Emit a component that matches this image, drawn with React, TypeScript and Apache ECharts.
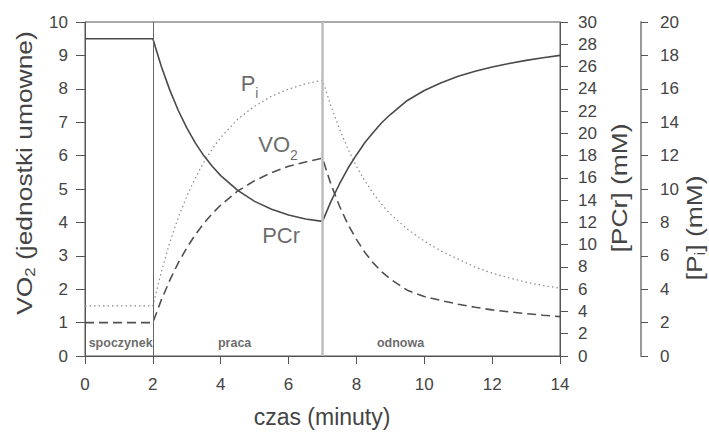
import { useEffect, useRef } from 'react';
import * as echarts from 'echarts';

const TIME = [0, 2, 2.25, 2.5, 2.75, 3, 3.25, 3.5, 3.75, 4, 4.5, 5, 5.5, 6, 6.5, 7, 7.25, 7.5, 7.75, 8, 8.25, 8.5, 8.75, 9, 9.5, 10, 10.5, 11, 11.5, 12, 12.5, 13, 13.5, 14];
// VO2 (arbitrary units, left axis)
const VO2 = [1, 1, 1.68, 2.27, 2.79, 3.24, 3.63, 3.97, 4.26, 4.52, 4.94, 5.25, 5.49, 5.68, 5.81, 5.92, 5.14, 4.49, 3.94, 3.49, 3.1, 2.78, 2.52, 2.3, 1.97, 1.78, 1.66, 1.55, 1.46, 1.38, 1.32, 1.27, 1.22, 1.18];
// [PCr] (mM)
const PCR = [28.5, 28.5, 26.01, 23.88, 22.05, 20.49, 19.14, 18.0, 17.04, 16.2, 14.87, 13.89, 13.19, 12.66, 12.3, 12.09, 13.89, 15.45, 16.86, 18.06, 19.17, 20.1, 20.97, 21.69, 22.95, 23.85, 24.55, 25.12, 25.58, 25.96, 26.28, 26.55, 26.79, 27.0];
// [Pi] (mM)
const PI = [3, 3, 5.04, 6.8, 8.3, 9.56, 10.66, 11.6, 12.4, 13.08, 14.18, 14.96, 15.56, 15.98, 16.3, 16.52, 14.96, 13.6, 12.4, 11.36, 10.48, 9.72, 9.06, 8.5, 7.6, 6.88, 6.28, 5.8, 5.32, 4.96, 4.68, 4.42, 4.22, 4.06];

const PHASE_NAMES = ['spoczynek', 'praca', 'odnowa'];
const PHASE_X = [1.05, 4.41, 9.3];
const PHASE_Y = 0.4;
const PHASE_BOUNDS = [2, 7];

const CURVE_LABELS = ['{m|P}{s|i}', '{m|VO}{s|2}', '{m|PCr}'];
const CURVE_LABEL_X = [4.85, 5.69, 5.78];
const CURVE_LABEL_Y = [8.16, 6.32, 3.61];

const FF = "'Liberation Sans', Arial, Helvetica, sans-serif";
const TXT = '#444';
const AX = '#555';

export default function App() {
  const ref = useRef<HTMLDivElement>(null);
  useEffect(() => {
    if (!ref.current) return;
    const chart = echarts.init(ref.current, undefined, { renderer: 'svg' });
    const gRich = {
      m: { fontSize: 22, lineHeight: 26, fill: TXT, fontFamily: FF },
      s: { fontSize: 14, verticalAlign: 'bottom', fill: TXT, fontFamily: FF },
    };
    const axisCommon = (color: string, width: number, tickLen: number, margin: number) => ({
      axisLine: { show: true, onZero: false, lineStyle: { color, width } },
      axisTick: { show: true, length: tickLen, lineStyle: { color: AX, width: 1 } },
      axisLabel: { fontSize: 17, color: TXT, margin, fontFamily: FF },
      splitLine: { show: false },
    });
    chart.setOption({
      animation: false,
      textStyle: { fontFamily: FF },
      grid: { left: 85, right: 149, top: 22, bottom: 77, show: true, borderColor: AX, borderWidth: 1 },
      xAxis: { type: 'value', min: 0, max: 14, interval: 2, ...axisCommon(AX, 1, 8, 20) },
      yAxis: [
        { type: 'value', min: 0, max: 10, interval: 1, position: 'left', ...axisCommon(AX, 1, 9, 17) },
        { type: 'value', min: 0, max: 30, interval: 2, position: 'right', offset: 0, ...axisCommon(AX, 1, 8, 18) },
        { type: 'value', min: 0, max: 20, interval: 2, position: 'right', offset: 81, ...axisCommon('#999', 2, 7, 19) },
      ],
      series: [
        {
          name: 'Pi', type: 'line', yAxisIndex: 2, showSymbol: false, symbol: 'none',
          data: TIME.map((t, i) => [t, PI[i]]),
          lineStyle: { color: '#8a8a8a', width: 1.2, type: [1.5, 3] },
          z: 2,
        },
        {
          name: 'VO2', type: 'line', yAxisIndex: 0, showSymbol: false, symbol: 'none',
          data: TIME.map((t, i) => [t, VO2[i]]),
          lineStyle: { color: '#505050', width: 1.6, type: [9, 5] },
          z: 3,
          markLine: {
            silent: true, symbol: ['none', 'none'], label: { show: false },
            data: [
              { xAxis: PHASE_BOUNDS[0], lineStyle: { color: '#666', width: 1, type: 'solid' } },
              { xAxis: PHASE_BOUNDS[1], lineStyle: { color: '#bdbdbd', width: 2.5, type: 'solid' } },
            ],
          },
        },
        {
          name: 'PCr', type: 'line', yAxisIndex: 1, showSymbol: false, symbol: 'none',
          data: TIME.map((t, i) => [t, PCR[i]]),
          lineStyle: { color: '#4a4a4a', width: 1.6, type: 'solid' },
          z: 4,
        },
        {
          type: 'scatter', yAxisIndex: 0, symbolSize: 1, itemStyle: { color: 'rgba(0,0,0,0)' }, silent: true,
          data: PHASE_NAMES.map((n, i) => ({ name: n, value: [PHASE_X[i], PHASE_Y] })),
          label: { show: true, position: 'inside', formatter: '{b}', fontSize: 12.5, fontWeight: 'bold', color: TXT, fontFamily: FF },
          z: 5,
        },
        {
          type: 'scatter', yAxisIndex: 0, symbolSize: 1, itemStyle: { color: 'rgba(0,0,0,0)' }, silent: true,
          data: CURVE_LABELS.map((n, i) => ({ name: n, value: [CURVE_LABEL_X[i], CURVE_LABEL_Y[i]] })),
          label: {
            show: true, position: 'inside',
            formatter: (p: any) => CURVE_LABELS[p.dataIndex],
            rich: {
              m: { fontSize: 22, lineHeight: 34, color: TXT, fontFamily: FF },
              s: { fontSize: 14, verticalAlign: 'bottom', color: TXT, fontFamily: FF },
            },
          },
          z: 5,
        },
      ],
      graphic: [
        {
          type: 'text', x: 322, y: 417,
          style: { text: 'czas (minuty)', fontSize: 23, fill: TXT, fontFamily: FF, align: 'center', verticalAlign: 'middle' },
        },
        {
          type: 'text', x: 24, y: 173, rotation: Math.PI / 2, scaleX: 1.2,
          style: { text: '{m|VO}{s|2}{m| (jednostki umowne)}', rich: gRich, align: 'center', verticalAlign: 'middle' },
        },
        {
          type: 'text', x: 619, y: 188, rotation: Math.PI / 2, scaleX: 1.2,
          style: { text: '{m|[PCr] (mM)}', rich: gRich, align: 'center', verticalAlign: 'middle' },
        },
        {
          type: 'text', x: 694, y: 228, rotation: Math.PI / 2, scaleX: 1.2,
          style: { text: '{m|[P}{s|i}{m|] (mM)}', rich: gRich, align: 'center', verticalAlign: 'middle' },
        },
      ],
    });
    return () => chart.dispose();
  }, []);
  return <div ref={ref} style={{ position: 'fixed', left: 0, top: 0, width: 709, height: 433, background: '#fff' }} />;
}
